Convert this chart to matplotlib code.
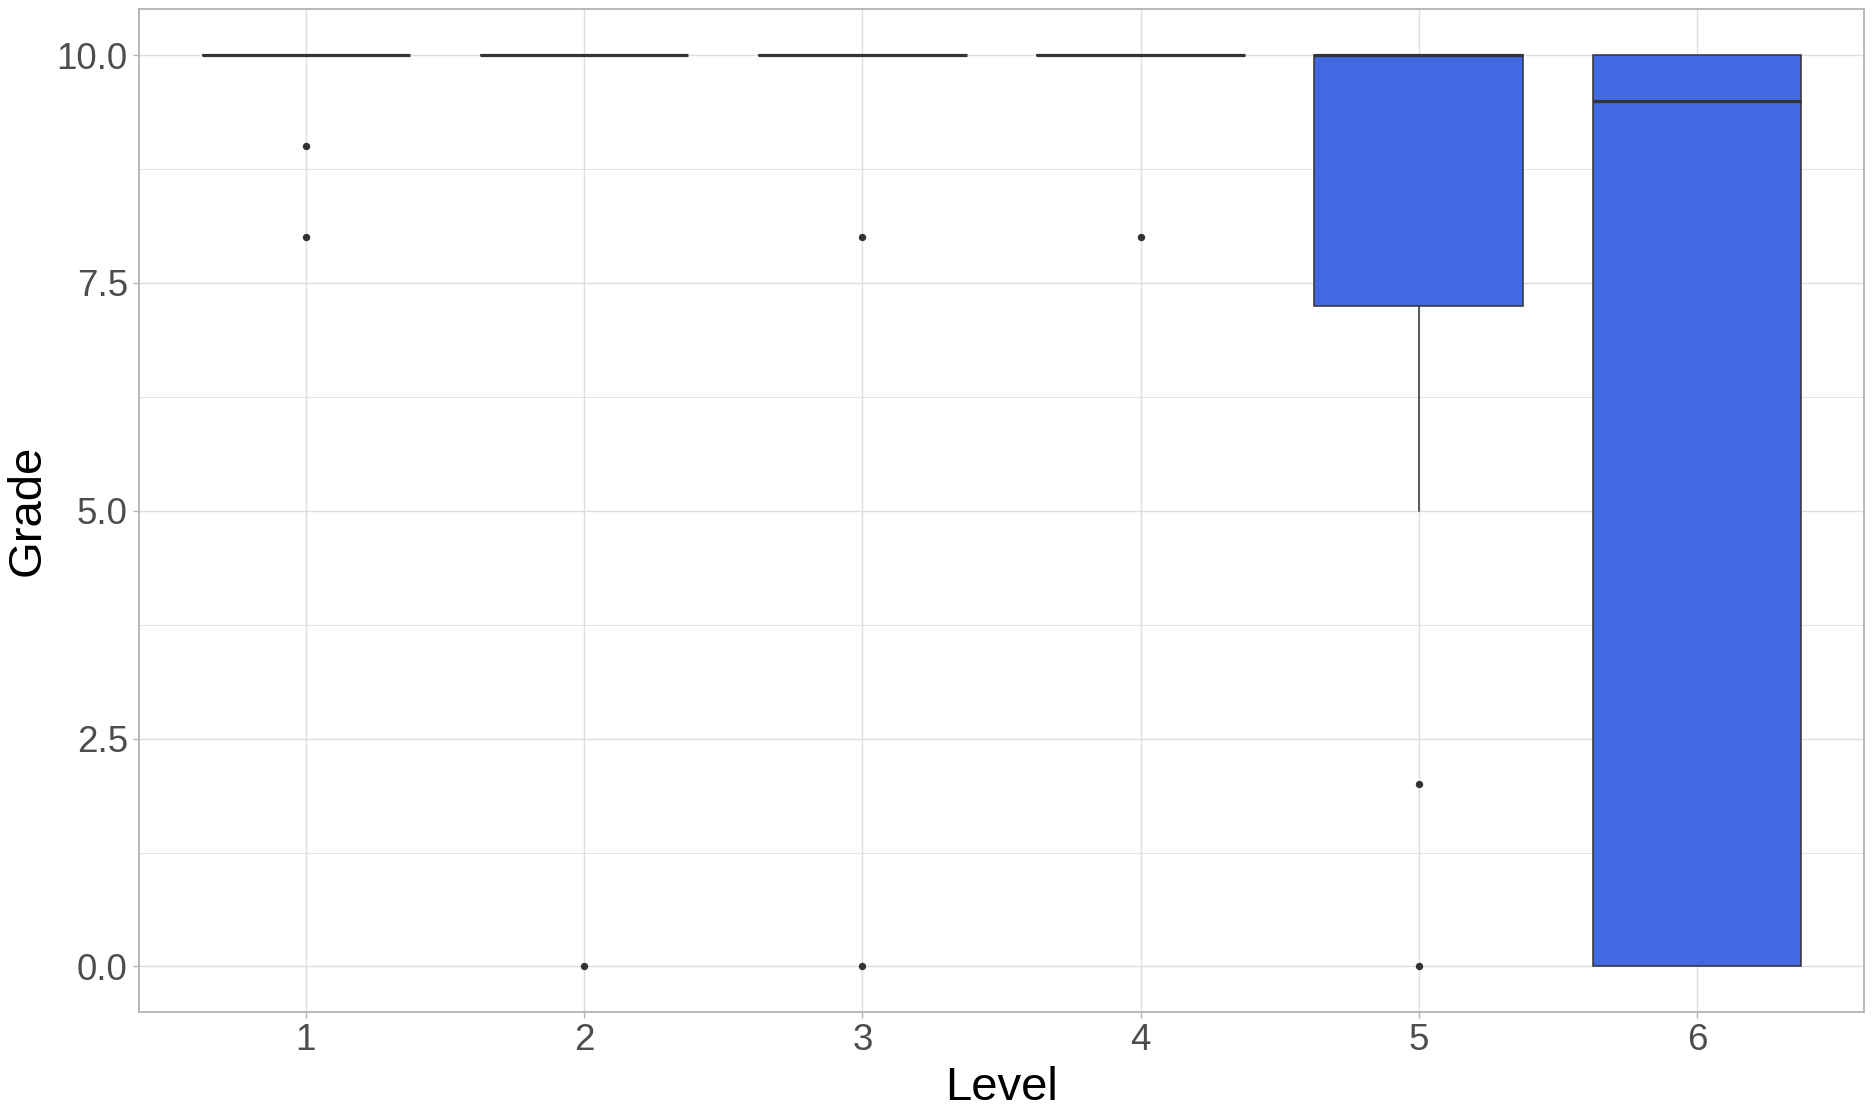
import matplotlib.pyplot as plt

# Box summary per level
levels = [1, 2, 3, 4, 5, 6]
q1 = [10, 10, 10, 10, 7.25, 0]
medians = [10, 10, 10, 10, 10, 9.5]
q3 = [10, 10, 10, 10, 10, 10]
whisker_low = [10, 10, 10, 10, 5, 0]
whisker_high = [10, 10, 10, 10, 10, 10]
outliers = [[9, 8], [0], [8, 0], [8], [2, 0], []]

plt.rcParams['font.family'] = ['Liberation Sans', 'DejaVu Sans']

fig = plt.figure(figsize=(18.75, 11.13), dpi=100)
ax = fig.add_axes([0.0741, 0.0907, 0.9200, 0.9008])

stats = []
for i in range(len(levels)):
    stats.append({
        'q1': q1[i], 'med': medians[i], 'q3': q3[i],
        'whislo': whisker_low[i], 'whishi': whisker_high[i],
        'fliers': outliers[i], 'label': str(levels[i]),
    })

ax.bxp(stats, positions=levels, widths=0.75, patch_artist=True,
       showcaps=False,
       boxprops=dict(facecolor='#4169E1', edgecolor='#333333', linewidth=1.1),
       medianprops=dict(color='#333333', linewidth=2.3),
       whiskerprops=dict(color='#333333', linewidth=1.1),
       flierprops=dict(marker='o', markerfacecolor='#333333',
                       markeredgecolor='#333333', markersize=4.3),
       zorder=3)

ax.set_xlim(0.4, 6.6)
ax.set_ylim(-0.5, 10.5)
ax.set_yticks([0, 2.5, 5, 7.5, 10])
ax.set_yticklabels(['0.0', '2.5', '5.0', '7.5', '10.0'])
ax.set_yticks([1.25, 3.75, 6.25, 8.75], minor=True)

ax.grid(True, which='major', color='#DEDEDE', linewidth=1.0, zorder=0)
ax.grid(True, which='minor', axis='y', color='#DEDEDE', linewidth=0.6, zorder=0)
ax.set_axisbelow(True)

for side in ax.spines.values():
    side.set_color('#B3B3B3')
    side.set_linewidth(1.3)

ax.tick_params(which='major', length=4, width=1.0, color='#B3B3B3',
               labelsize=26.5, labelcolor='#4D4D4D', pad=4)
ax.tick_params(which='minor', length=0)

ax.set_xlabel('Level', fontsize=34, color='black', labelpad=6)
ax.set_ylabel('Grade', fontsize=34, color='black', labelpad=5)

fig.savefig('out.png', dpi=100)
